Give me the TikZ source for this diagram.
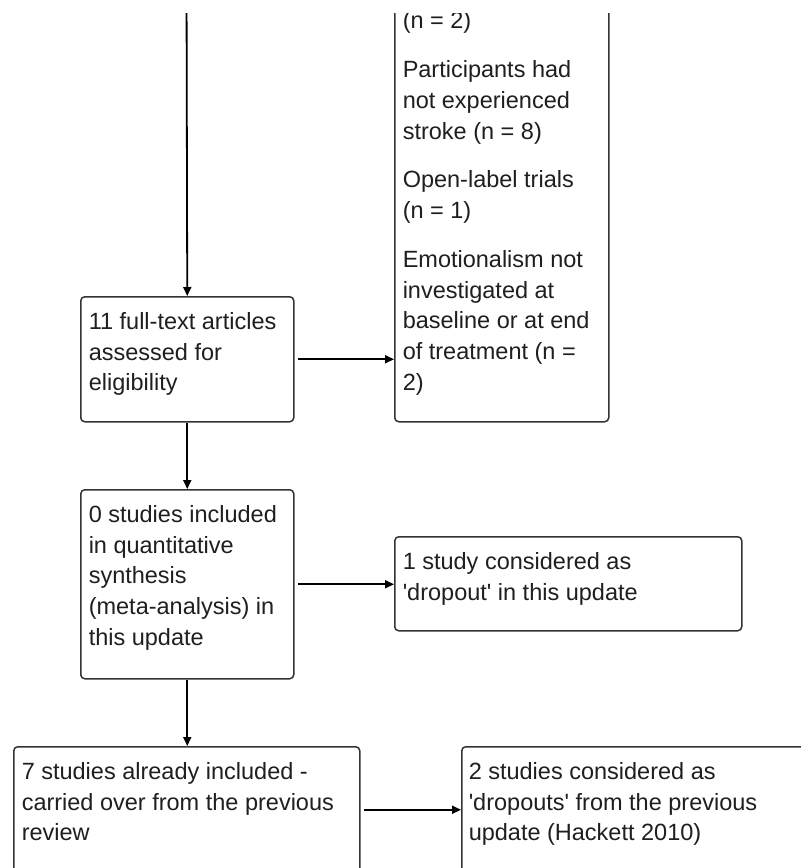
\documentclass[tikz,border=0pt]{standalone}
\usepackage{fontspec}
\setmainfont{Liberation Sans}
\usetikzlibrary{arrows.meta}
\newcommand\flowtext[4]{\parbox[t][#1][t]{#2}{\rule{0pt}{#3}#4}}
\tikzset{
  flowbox/.style={draw=black!80, line width=1.5pt, rounded corners=4pt,
    anchor=north west, inner xsep=8pt, inner ysep=0pt,
    font=\fontsize{23.5}{30.75}\selectfont, text=black!88},
  flowarrow/.style={line width=1.8pt, draw=black, -{Triangle[length=9pt,width=8pt]}},
}
\begin{document}
\begin{tikzpicture}[x=1pt,y=-1pt]
\useasboundingbox (0,0) rectangle (801,868);
\fill[white] (0,0) rectangle (801,868);
\clip (0,13) rectangle (801,868);

\node[flowbox] (tr) at (394,-100) {\flowtext{521pt}{198pt}{128pt}{(n = 2)\\[18pt]Participants had\\not experienced\\stroke (n = 8)\\[18pt]Open-label trials\\(n = 1)\\[18pt]Emotionalism not\\investigated at\\baseline or at end\\of treatment (n =\\2)}};

\node[flowbox] (b1) at (80,296) {\flowtext{125pt}{197pt}{32.5pt}{11 full-text articles\\assessed for\\eligibility}};

\node[flowbox] (b2) at (80,489) {\flowtext{189pt}{197pt}{32.5pt}{0 studies included\\in quantitative\\synthesis\\(meta-analysis) in\\this update}};

\node[flowbox] (d1) at (394,536) {\flowtext{94pt}{331pt}{32.5pt}{1 study considered as\\\textquotesingle dropout\textquotesingle{} in this update}};

\node[flowbox] (b3) at (13,746) {\flowtext{126pt}{330pt}{32.5pt}{7 studies already included -\\carried over from the previous\\review}};

\node[flowbox, inner xsep=7pt] (d2) at (461,746) {\flowtext{126pt}{360pt}{32.5pt}{2 studies considered as\\\textquotesingle dropouts\textquotesingle{} from the previous\\update (Hackett 2010)}};

\coordinate (topin) at (186.5,-20);
\draw[flowarrow] (topin) -- (b1.north);
\draw[flowarrow, shorten <=3pt] (b1.east) -- (b1.east -| tr.west);
\draw[flowarrow] (b1.south) -- (b2.north);
\draw[flowarrow, shorten <=3pt] (b2.east) -- (b2.east -| d1.west);
\draw[flowarrow] (b2.south) -- (b2.south |- b3.north);
\draw[flowarrow, shorten <=3pt] (b3.east) -- (b3.east -| d2.west);
\end{tikzpicture}
\end{document}
